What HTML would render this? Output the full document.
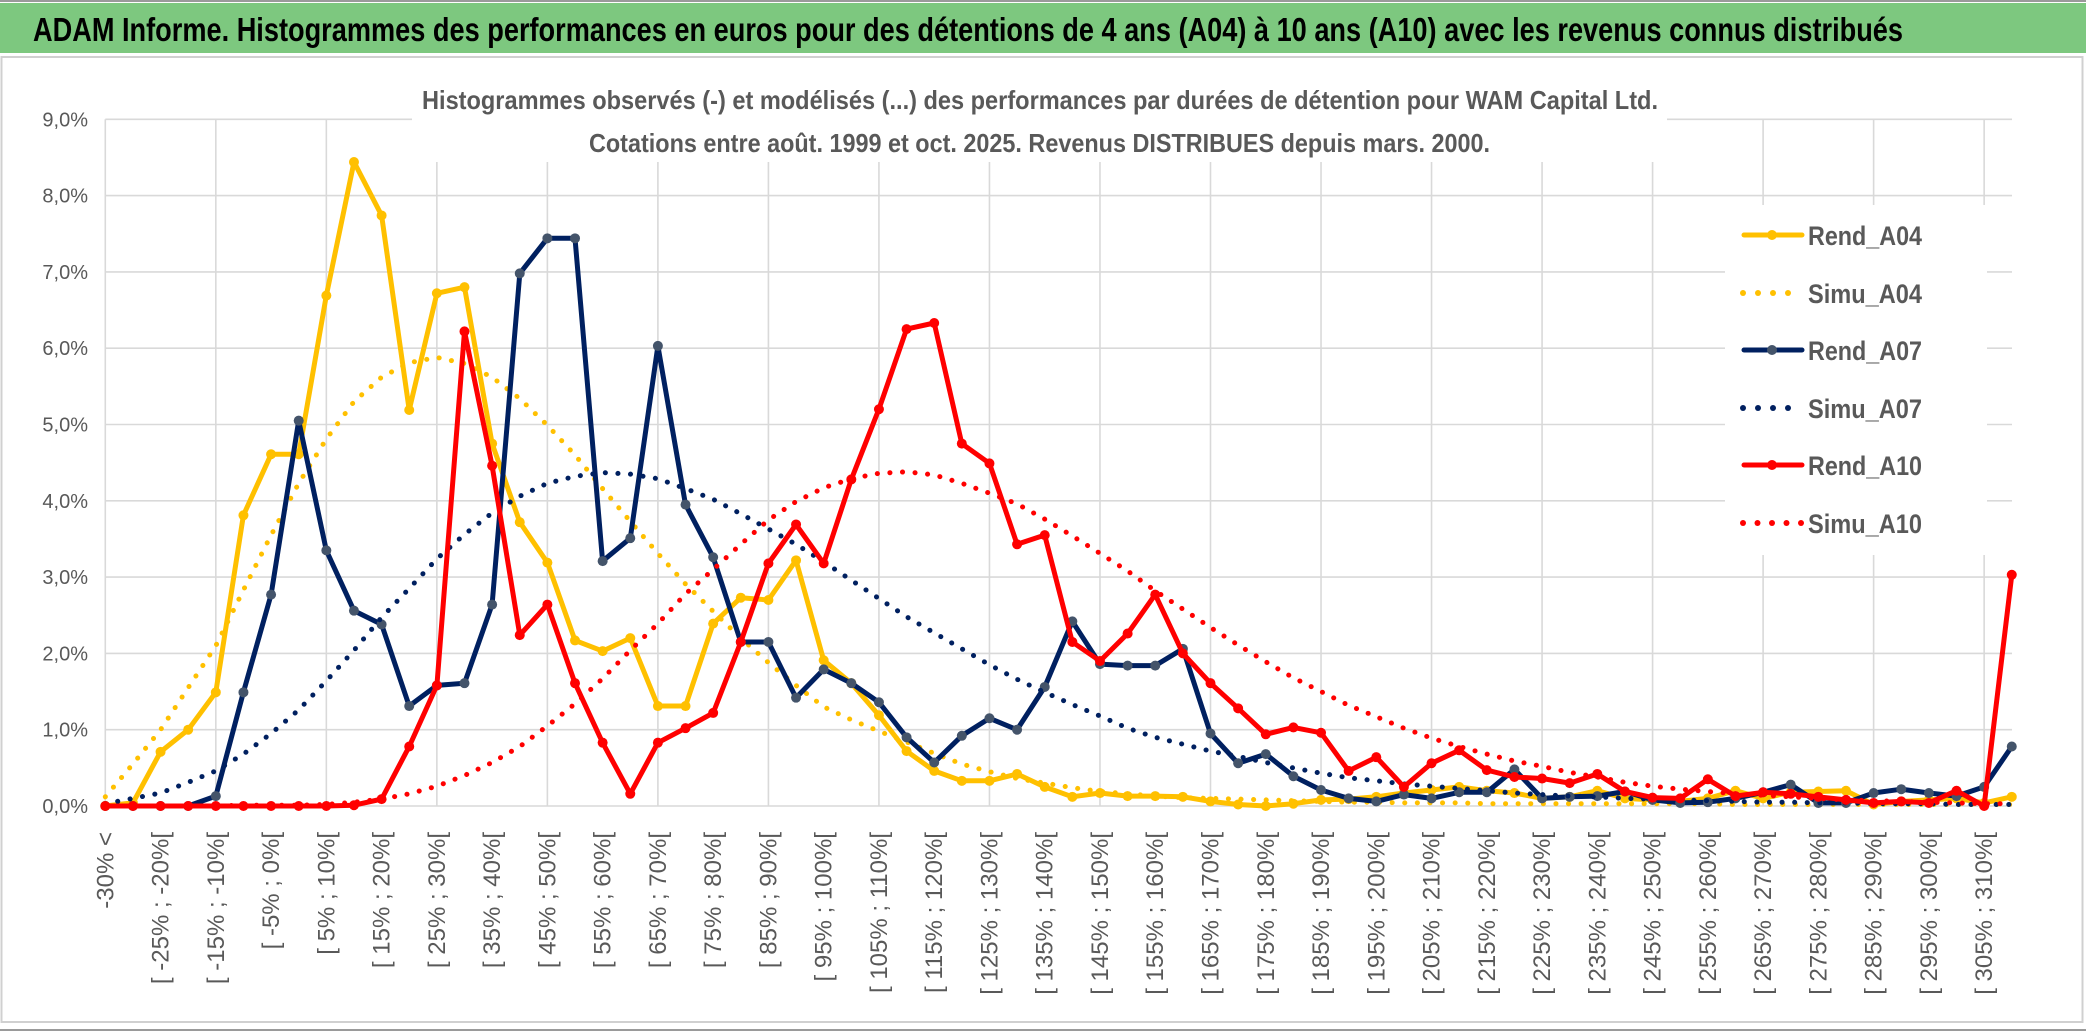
<!DOCTYPE html>
<html>
<head>
<meta charset="utf-8">
<style>
  html,body{margin:0;padding:0;background:#fff;}
  svg{display:block;}
  text{font-family:"Liberation Sans",sans-serif;}
</style>
</head>
<body>
<svg id="chart" width="2086" height="1033" viewBox="0 0 2086 1033" xmlns="http://www.w3.org/2000/svg">
  <rect x="0" y="0" width="2086" height="1033" fill="#ffffff"/>
  <rect x="0" y="0" width="2086" height="2" fill="#9a9a9a"/>
  <rect x="0" y="3" width="2086" height="50" fill="#7dc87f"/>
  <text x="33" y="41" font-size="33" font-weight="bold" fill="#000" textLength="1870" lengthAdjust="spacingAndGlyphs">ADAM Informe. Histogrammes des performances en euros pour des détentions de 4 ans (A04) à 10 ans (A10) avec les revenus connus distribués</text>
  <rect x="1.5" y="57" width="2081" height="965" fill="none" stroke="#d0d0d0" stroke-width="2"/>
  <rect x="0" y="1029" width="2086" height="2" fill="#9a9a9a"/>
  <g id="grid"></g>
  <rect x="412" y="70" width="1255" height="92" fill="#fff"/>
  <text x="422" y="109" font-size="26" font-weight="bold" fill="#595959" textLength="1236" lengthAdjust="spacingAndGlyphs">Histogrammes observés (-) et modélisés (...) des performances par durées de détention pour WAM Capital Ltd.</text>
  <text x="589" y="152" font-size="26" font-weight="bold" fill="#595959" textLength="901" lengthAdjust="spacingAndGlyphs">Cotations entre août. 1999 et oct. 2025. Revenus DISTRIBUES depuis mars. 2000.</text>
  <g id="yaxis"></g>
  <g id="xaxis"></g>
  <g id="series"></g>
  <g id="legend"></g>
</svg>
<script>
const rendA04 = [0,0.04,0.71,1.0,1.49,3.81,4.61,4.61,6.69,8.44,7.74,5.19,6.72,6.80,4.75,3.72,3.19,2.17,2.03,2.20,1.31,1.31,2.39,2.73,2.70,3.22,1.91,1.61,1.19,0.72,0.46,0.33,0.33,0.42,0.25,0.12,0.17,0.13,0.13,0.12,0.06,0.02,0.0,0.03,0.08,0.09,0.12,0.17,0.21,0.25,0.20,0.17,0.10,0.12,0.20,0.10,0.08,0.06,0.10,0.20,0.10,0.18,0.19,0.20,0.02,0.06,0.08,0.10,0.04,0.12];
const simuA04 = [0.12,0.55,1.0,1.55,2.1,2.83,3.55,4.23,4.81,5.3,5.62,5.81,5.88,5.8,5.62,5.34,4.99,4.6,4.16,3.73,3.31,2.91,2.55,2.2,1.88,1.58,1.3,1.13,0.98,0.84,0.69,0.55,0.45,0.36,0.3,0.24,0.19,0.16,0.13,0.11,0.1,0.09,0.08,0.07,0.06,0.05,0.05,0.04,0.04,0.04,0.03,0.03,0.03,0.03,0.03,0.03,0.03,0.03,0.03,0.02,0.02,0.02,0.02,0.02,0.02,0.02,0.02,0.02,0.02,0.02];
const rendA07 = [0,0,0,0,0.13,1.49,2.77,5.05,3.35,2.56,2.38,1.31,1.58,1.61,2.64,6.98,7.44,7.44,3.21,3.51,6.03,3.95,3.26,2.15,2.15,1.42,1.79,1.61,1.36,0.90,0.57,0.92,1.15,1.00,1.56,2.42,1.86,1.84,1.84,2.06,0.95,0.56,0.68,0.39,0.21,0.10,0.06,0.15,0.10,0.18,0.18,0.48,0.10,0.12,0.13,0.19,0.08,0.04,0.05,0.10,0.18,0.28,0.04,0.04,0.17,0.22,0.17,0.13,0.25,0.78];
const simuA07 = [0.03,0.10,0.17,0.31,0.46,0.68,0.95,1.26,1.64,2.04,2.47,2.85,3.24,3.56,3.84,4.06,4.23,4.32,4.37,4.35,4.29,4.16,4.02,3.83,3.63,3.43,3.2,2.96,2.72,2.48,2.27,2.06,1.85,1.66,1.49,1.33,1.18,1.02,0.9,0.81,0.72,0.65,0.57,0.5,0.43,0.37,0.33,0.29,0.26,0.23,0.2,0.17,0.15,0.13,0.12,0.10,0.09,0.08,0.07,0.06,0.05,0.05,0.04,0.04,0.03,0.03,0.03,0.02,0.02,0.02];
const rendA10 = [0,0,0,0,0,0,0,0,0,0.01,0.09,0.78,1.58,6.22,4.46,2.24,2.64,1.61,0.83,0.16,0.83,1.02,1.22,2.15,3.18,3.69,3.18,4.28,5.2,6.25,6.33,4.75,4.49,3.43,3.55,2.15,1.9,2.26,2.77,2.0,1.61,1.28,0.94,1.03,0.96,0.46,0.64,0.25,0.56,0.73,0.47,0.38,0.36,0.30,0.42,0.19,0.11,0.10,0.35,0.13,0.18,0.16,0.12,0.08,0.04,0.06,0.04,0.20,0.0,3.03];
const simuA10 = [0,0,0,0,0,0.01,0.01,0.01,0.02,0.05,0.09,0.16,0.26,0.40,0.57,0.78,1.05,1.34,1.67,2.04,2.39,2.78,3.10,3.43,3.75,3.99,4.17,4.29,4.36,4.38,4.34,4.23,4.10,3.96,3.76,3.54,3.31,3.08,2.82,2.58,2.34,2.11,1.89,1.68,1.50,1.32,1.17,1.02,0.89,0.78,0.68,0.59,0.52,0.44,0.38,0.31,0.26,0.22,0.19,0.16,0.14,0.12,0.10,0.08,0.07,0.06,0.05,0.04,0.03,0.03];
const yTicks = [0,1,2,3,4,5,6,7,8,9];
const yTickLabels = ["0,0%","1,0%","2,0%","3,0%","4,0%","5,0%","6,0%","7,0%","8,0%","9,0%"];
const binStarts = [];
for (let k = 1; k <= 68; k++) binStarts.push(-30 + 5 * (k - 1));
const categories = ["-30% <"].concat(binStarts.map(a => "[ " + a + "% ; " + (a + 5) + "%[")).concat(["310% >"]);

const NS = "http://www.w3.org/2000/svg";
const X0 = 105.3, DX = 27.63, Y0 = 806, DY = 76.3, XR = 2012;
function xPos(i){ return X0 + DX * i; }
function yPos(v){ return Y0 - DY * v; }
function mk(tag, attrs, parent){
  const e = document.createElementNS(NS, tag);
  for (const k in attrs) e.setAttribute(k, attrs[k]);
  parent.appendChild(e);
  return e;
}

const grid = document.getElementById('grid');
yTicks.forEach(t => {
  const l = mk('line', {x1:X0, x2:XR, y1:yPos(t), y2:yPos(t), stroke:'#d9d9d9', 'stroke-width':1.6}, grid);
  
  
});
for (let i = 0; i < categories.length; i += 4) {
  const l = mk('line', {x1:xPos(i), x2:xPos(i), y1:yPos(9), y2:Y0, stroke:'#d9d9d9', 'stroke-width':1.6}, grid);
  
  
}

const yaxis = document.getElementById('yaxis');
yTicks.forEach((t, k) => {
  const tx = mk('text', {x:88, y:yPos(t) + 7, 'font-size':20, fill:'#595959', 'text-anchor':'end'}, yaxis);
  tx.textContent = yTickLabels[k];
  
  
});

const xaxis = document.getElementById('xaxis');
categories.forEach((c, i) => {
  if (i % 2 !== 0) return;
  const x = xPos(i) + 8, y = 832;
  const tx = mk('text', {x:x, y:y, 'font-size':24, fill:'#595959', 'text-anchor':'end', transform:'rotate(-90 ' + x + ' ' + y + ')'}, xaxis);
  tx.textContent = c;
  
  
});

const seriesLayer = document.getElementById('series');
function drawSolid(vals, color, markerColor, name){
  const g = mk('g', {}, seriesLayer);
  
  
  const pts = vals.map((v, i) => xPos(i).toFixed(1) + ',' + yPos(v).toFixed(1)).join(' ');
  const pl = mk('polyline', {points:pts, fill:'none', stroke:color, 'stroke-width':5, 'stroke-linejoin':'round', 'stroke-linecap':'round'}, g);
  
  
  vals.forEach((v, i) => {
    const c = mk('circle', {cx:xPos(i), cy:yPos(v), r:5, fill:markerColor}, g);
    
    
  });
}
function drawDotted(vals, color, name){
  const pts = vals.map((v, i) => xPos(i).toFixed(1) + ',' + yPos(v).toFixed(1)).join(' ');
  const pl = mk('polyline', {points:pts, fill:'none', stroke:color, 'stroke-width':5, 'stroke-linecap':'round', 'stroke-linejoin':'round', 'stroke-dasharray':'0.1 12.5'}, seriesLayer);
  
  
}
drawSolid(rendA04, '#ffc000', '#ffc000', 'rend-a04');
drawDotted(simuA04, '#ffc000', 'simu-a04');
drawSolid(rendA07, '#002060', '#44546a', 'rend-a07');
drawDotted(simuA07, '#002060', 'simu-a07');
drawSolid(rendA10, '#ff0000', '#ff0000', 'rend-a10');
drawDotted(simuA10, '#ff0000', 'simu-a10');

const legend = document.getElementById('legend');
const lbg = mk('rect', {x:1725, y:205, width:262, height:350, fill:'#fff'}, legend);


const legendItems = [
  {name:'Rend_A04', color:'#ffc000', marker:'#ffc000', dotted:false, cy:235},
  {name:'Simu_A04', color:'#ffc000', dotted:true, n:4, cy:293},
  {name:'Rend_A07', color:'#002060', marker:'#44546a', dotted:false, cy:350},
  {name:'Simu_A07', color:'#002060', dotted:true, n:4, cy:408},
  {name:'Rend_A10', color:'#ff0000', marker:'#ff0000', dotted:false, cy:465},
  {name:'Simu_A10', color:'#ff0000', dotted:true, n:5, cy:523}
];
legendItems.forEach(it => {
  const g = mk('g', {}, legend);
  
  
  if (!it.dotted) {
    mk('line', {x1:1744, x2:1802, y1:it.cy, y2:it.cy, stroke:it.color, 'stroke-width':5, 'stroke-linecap':'round'}, g);
    mk('circle', {cx:1772, cy:it.cy, r:5, fill:it.marker}, g);
  } else {
    const step = it.n === 5 ? 14.5 : 15;
    for (let k = 0; k < it.n; k++) mk('circle', {cx:1743 + step * k, cy:it.cy, r:3, fill:it.color}, g);
  }
  const t = mk('text', {x:1808, y:it.cy + 10, 'font-size':27, 'font-weight':'bold', fill:'#595959', textLength:114, lengthAdjust:'spacingAndGlyphs'}, g);
  t.textContent = it.name;
});
</script>
</body>
</html>
